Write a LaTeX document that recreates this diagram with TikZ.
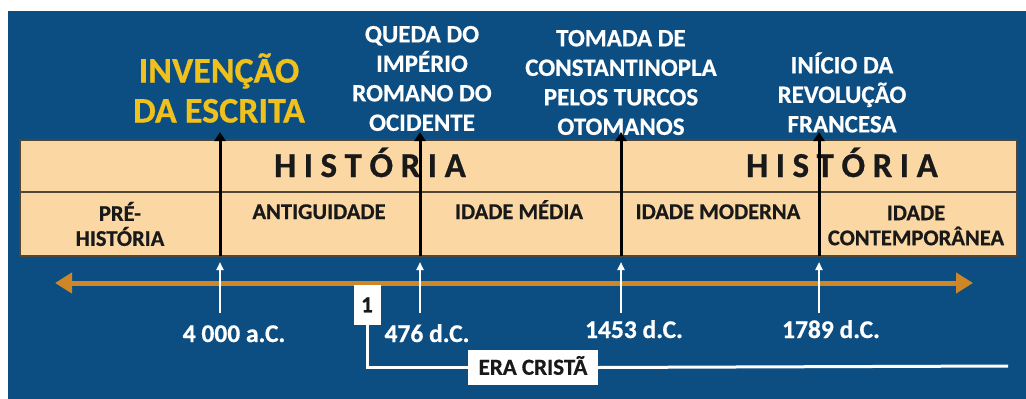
\documentclass[tikz,border=0pt]{standalone}
\usepackage{fontspec}
\setmainfont{Carlito}[BoldFont={Carlito Bold}, BoldFeatures={FakeBold=0.6}]
\usetikzlibrary{arrows.meta}
\definecolor{bgblue}{RGB}{13,78,130}
\definecolor{tanfill}{RGB}{250,215,163}
\definecolor{tanedge}{RGB}{80,70,55}
\definecolor{lineorange}{RGB}{206,134,38}
\definecolor{titleyellow}{RGB}{240,192,28}
\definecolor{darktext}{RGB}{25,25,25}
\newcommand{\histword}{H\kern7.5pt I\kern7.5pt S\kern7.5pt T\kern7.5pt Ó\kern7.5pt R\kern7.5pt I\kern7.5pt A}
\tikzset{
  toplbl/.style={text=white, inner sep=0pt, align=center, font=\bfseries\fontsize{25}{29.5}\selectfont},
  yellowlbl/.style={text=titleyellow, inner sep=0pt, align=center, font=\bfseries\fontsize{36}{40}\selectfont},
  periodlbl/.style={text=darktext, inner sep=0pt, align=center, font=\bfseries\fontsize{22.5}{25}\selectfont},
  bigword/.style={text=darktext, inner sep=0pt, anchor=base, font=\bfseries\fontsize{35}{38}\selectfont},
  datelbl/.style={text=white, inner sep=0pt, anchor=base, font=\bfseries\fontsize{25.5}{28}\selectfont},
  whitebox/.style={fill=white, text=darktext, inner sep=0pt, text height=14.5pt, text depth=0pt, font=\bfseries\fontsize{23}{25}\selectfont},
  blackarrow/.style={draw=black, line width=3pt, -{Triangle[length=9pt,width=11pt]}},
  whitearrow/.style={draw=white, line width=2pt, -{Triangle[length=8pt,width=7pt]}},
  timeline/.style={draw=lineorange, line width=5pt, {Triangle[length=17pt,width=20pt]}-{Triangle[length=17pt,width=20pt]}},
  whiteline/.style={draw=white, line width=3pt},
}
\begin{document}
\begin{tikzpicture}[x=1pt,y=-1pt]
\useasboundingbox (0,0) rectangle (1026,399);
\fill[white] (0,0) rectangle (1026,399);
\fill[bgblue] (8,11) rectangle (1026,399);
% main band
\filldraw[fill=tanfill, draw=tanedge, line width=1.5pt] (20,140) rectangle (1017,256);
\draw[tanedge, line width=1.5pt] (20,192) -- (1017,192);
% big words
\node[bigword] (hist1) at (370,177) {\histword};
\node[bigword] (hist2) at (842,177) {\histword};
% period labels
\node[periodlbl] (pre) at (120,224) {PRÉ-\\HISTÓRIA};
\node[periodlbl, anchor=base] (ant) at (319,219) {ANTIGUIDADE};
\node[periodlbl, anchor=base] (med) at (519,219) {IDADE MÉDIA};
\node[periodlbl, anchor=base] (mod) at (718,219) {IDADE MODERNA};
\node[periodlbl] (con) at (916,225.5) {IDADE\\CONTEMPORÂNEA};
% top event labels
\node[yellowlbl] (inv) at (219,88) {INVENÇÃO\\DA ESCRITA};
\node[toplbl] (queda) at (422,78.5) {QUEDA DO\\IMPÉRIO\\ROMANO DO\\OCIDENTE};
\node[toplbl] (tomada) at (621,82.5) {TOMADA DE\\CONSTANTINOPLA\\PELOS TURCOS\\OTOMANOS};
\node[toplbl] (inicio) at (842,92.5) {INÍCIO DA\\REVOLUÇÃO\\FRANCESA};
% arrow coordinates
\coordinate (b1) at (220,256); \coordinate (t1) at (220,132);
\coordinate (b2) at (420,256); \coordinate (t2) at (420,132);
\coordinate (b3) at (621,256); \coordinate (t3) at (621,132);
\coordinate (b4) at (819,256); \coordinate (t4) at (819,132);
\draw[blackarrow] (b1) -- (t1);
\draw[blackarrow] (b2) -- (t2);
\draw[blackarrow] (b3) -- (t3);
\draw[blackarrow] (b4) -- (t4);
% timeline
\coordinate (tlL) at (55,283);
\coordinate (tlR) at (973,283);
\draw[timeline] (tlL) -- (tlR);
% white date arrows
\coordinate (w1b) at (220,313); \coordinate (w1t) at (220,262);
\coordinate (w2b) at (420,313); \coordinate (w2t) at (420,262);
\coordinate (w3b) at (621,313); \coordinate (w3t) at (621,262);
\coordinate (w4b) at (819,313); \coordinate (w4t) at (819,262);
\draw[whitearrow] (w1b) -- (w1t);
\draw[whitearrow] (w2b) -- (w2t);
\draw[whitearrow] (w3b) -- (w3t);
\draw[whitearrow] (w4b) -- (w4t);
% dates
\node[datelbl] (d1) at (234,342) {4 000 a.C.};
\node[datelbl] (d2) at (427,342) {476 d.C.};
\node[datelbl] (d3) at (634,338) {1453 d.C.};
\node[datelbl] (d4) at (831,338) {1789 d.C.};
% era crista
\node[whitebox, minimum width=27pt, minimum height=40pt] (one) at (367,305) {1};
\node[whitebox, minimum width=130pt, minimum height=35pt] (era) at (533,367.5) {ERA CRISTÃ};
\coordinate (eraend) at (1008,366);
\draw[whiteline] (one.south) |- (era.west);
\draw[whiteline] (era.east) -- (eraend);
\end{tikzpicture}
\end{document}
